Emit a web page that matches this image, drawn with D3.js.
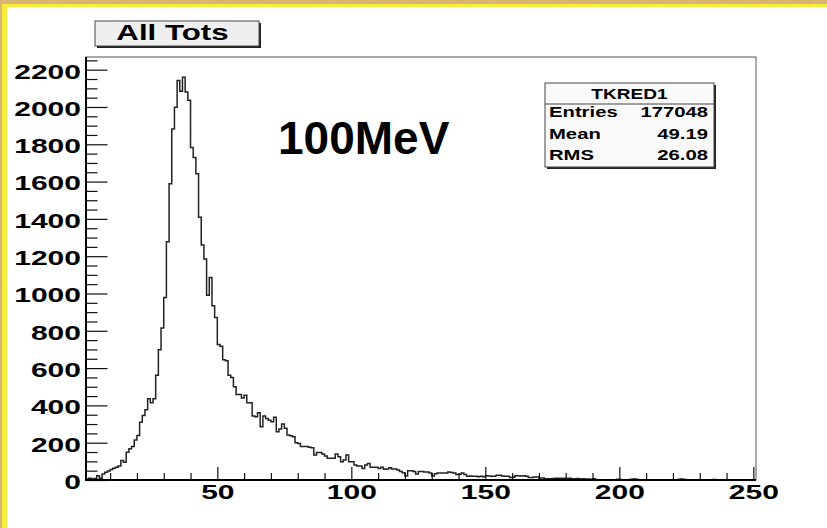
<!DOCTYPE html>
<html>
<head>
<meta charset="utf-8">
<script src="https://cdn.jsdelivr.net/npm/d3@7"></script>
<style>
  html, body { margin: 0; padding: 0; background: #d9b574; overflow: hidden; }
  svg { display: block; }
  text { font-family: "Liberation Sans", Arial, Helvetica, sans-serif; font-weight: bold; fill: #000; }
</style>
</head>
<body>
<svg id="chart" width="827" height="528"></svg>
<script>
// Histogram "TKRED1": time-over-threshold counts, 250 unit-wide bins from 1 to 251
const binLow = 1;
const binHigh = 251;
const counts = [
  6, 10, 5, 8, 23, 10, 32, 41, 48, 56,
  63, 68, 75, 104, 95, 149, 167, 179, 215, 238,
  310, 346, 376, 435, 414, 435, 561, 699, 815, 978,
  1278, 1588, 1882, 1998, 2142, 2084, 2159, 2081, 2036, 1783,
  1729, 1642, 1409, 1260, 1185, 991, 1086, 934, 871, 726,
  717, 645, 640, 562, 550, 500, 459, 459, 440, 455,
  414, 414, 343, 339, 361, 286, 343, 330, 321, 312,
  336, 259, 273, 300, 277, 241, 237, 232, 200, 196,
  179, 179, 179, 175, 173, 134, 148, 148, 139, 129,
  116, 116, 116, 139, 125, 98, 107, 134, 98, 98,
  80, 75, 75, 62, 80, 89, 68, 68, 68, 62,
  68, 57, 59, 66, 59, 59, 54, 45, 39, 21,
  50, 50, 45, 32, 45, 46, 43, 43, 37, 22,
  34, 37, 37, 37, 37, 43, 40, 37, 29, 31,
  37, 29, 20, 22, 20, 20, 18, 20, 18, 23,
  22, 20, 20, 25, 25, 22, 20, 20, 14, 15,
  23, 23, 22, 23, 20, 14, 14, 16, 16, 11,
  11, 7, 7, 7, 8, 9, 9, 10, 9, 8,
  9, 7, 7, 8, 6, 7, 5, 5, 4, 7,
  3, 2, 1, 2, 1, 1, 2, 1, 4, 3,
  1, 0, 1, 4, 5, 4, 1, 0, 1, 2,
  0, 1, 0, 1, 0, 1, 0, 1, 0, 1,
  2, 4, 5, 3, 1, 0, 1, 0, 0, 1,
  0, 0, 1, 1, 3, 0, 0, 1, 0, 0,
  0, 0, 1, 0, 0, 0, 0, 0, 0, 0
];
const yMax = 2268;

const xMajorTicks = [50, 100, 150, 200, 250];
const xMinorTicks = [10, 20, 30, 40, 60, 70, 80, 90, 110, 120, 130, 140, 160, 170, 180, 190, 210, 220, 230, 240];
const yMajorTicks = [0, 200, 400, 600, 800, 1000, 1200, 1400, 1600, 1800, 2000, 2200];
const yMinorStep = 50;

const titleText = "All Tots";
const annotation = "100MeV";
const statsName = "TKRED1";
const statsRows = [["Entries", "177048"], ["Mean", "49.19"], ["RMS", "26.08"]];

const W = 827, H = 528;
const frame = { left: 86, right: 756, top: 57, bottom: 480 };

const svg = d3.select("#chart");

// Parchment surround with a bright yellow rim around the canvas
const defs = svg.append("defs");
const tex = defs.append("filter").attr("id", "grain").attr("x", 0).attr("y", 0).attr("width", 1).attr("height", 1);
tex.append("feTurbulence").attr("type", "fractalNoise").attr("baseFrequency", "0.08 0.35").attr("numOctaves", 3).attr("seed", 4).attr("result", "n");
tex.append("feColorMatrix").attr("in", "n").attr("type", "matrix")
  .attr("values", "0 0 0 0 0.55  0 0 0 0 0.38  0 0 0 0 0.12  0 0 0 0.9 -0.2");
svg.append("rect").attr("width", W).attr("height", H).attr("fill", "#dcb877");
svg.append("rect").attr("width", W).attr("height", H).attr("filter", "url(#grain)").attr("opacity", 0.6);
svg.append("rect").attr("x", 2).attr("y", 4).attr("width", W).attr("height", H).attr("fill", "#f6ee3a");
svg.append("rect").attr("x", 7).attr("y", 7).attr("width", W).attr("height", H).attr("fill", "#ffffff");

const x = d3.scaleLinear().domain([binLow, binHigh]).range([frame.left, frame.right]);
const y = d3.scaleLinear().domain([0, yMax]).range([frame.bottom, frame.top]);

// Stretch a text element horizontally by a given factor
function stretch(sel, factor) {
  sel.each(function () {
    const len = this.getComputedTextLength();
    d3.select(this).attr("textLength", len * factor).attr("lengthAdjust", "spacingAndGlyphs");
  });
}

// Frame
svg.append("rect")
  .attr("x", frame.left).attr("y", frame.top)
  .attr("width", frame.right - frame.left).attr("height", frame.bottom - frame.top)
  .attr("fill", "none").attr("stroke", "#555").attr("stroke-width", 1);

// Histogram outline
const clipId = "plotclip";
defs.append("clipPath").attr("id", clipId).append("rect")
  .attr("x", frame.left).attr("y", frame.top)
  .attr("width", frame.right - frame.left).attr("height", frame.bottom - frame.top);

const pts = counts.map((c, i) => [binLow + i, c]);
pts.push([binLow + counts.length, counts[counts.length - 1]]);
const stepLine = d3.line().x(d => x(d[0])).y(d => y(d[1])).curve(d3.curveStepAfter);
svg.append("path")
  .attr("clip-path", `url(#${clipId})`)
  .attr("d", stepLine(pts))
  .attr("fill", "none").attr("stroke", "#222").attr("stroke-width", 1.5);

// Y axis: major and minor ticks drawn inside the frame
const yMinor = d3.range(0, yMax, yMinorStep).filter(v => !yMajorTicks.includes(v));
svg.append("g").attr("transform", `translate(${frame.left},0)`)
  .call(d3.axisLeft(y).tickValues(yMinor).tickSize(-11.5).tickFormat(""))
  .call(g => g.select(".domain").remove())
  .call(g => g.selectAll("line").attr("stroke", "#111").attr("stroke-width", 1.2));
const yAxisG = svg.append("g").attr("transform", `translate(${frame.left},0)`)
  .call(d3.axisLeft(y).tickValues(yMajorTicks).tickSize(-21.5).tickPadding(5).tickFormat(d3.format("d")))
  .call(g => g.select(".domain").remove())
  .call(g => g.selectAll("line").attr("stroke", "#111").attr("stroke-width", 1.2));
yAxisG.selectAll("text").attr("font-size", 20).attr("fill", "#000")
  .attr("font-family", "'Liberation Sans', Arial, sans-serif").attr("font-weight", "bold").attr("dy", "0.42em");
stretch(yAxisG.selectAll("text"), 1.5);

// X axis
svg.append("g").attr("transform", `translate(0,${frame.bottom})`)
  .call(d3.axisBottom(x).tickValues(xMinorTicks).tickSize(-7).tickFormat(""))
  .call(g => g.select(".domain").remove())
  .call(g => g.selectAll("line").attr("stroke", "#111").attr("stroke-width", 1.2));
const xAxisG = svg.append("g").attr("transform", `translate(0,${frame.bottom})`)
  .call(d3.axisBottom(x).tickValues(xMajorTicks).tickSize(-13).tickPadding(5).tickFormat(d3.format("d")))
  .call(g => g.select(".domain").remove())
  .call(g => g.selectAll("line").attr("stroke", "#111").attr("stroke-width", 1.2));
xAxisG.selectAll("text").attr("font-size", 20).attr("fill", "#000")
  .attr("font-family", "'Liberation Sans', Arial, sans-serif").attr("font-weight", "bold");
stretch(xAxisG.selectAll("text"), 1.5);

// Heavier axis lines along left and bottom
svg.append("line").attr("x1", frame.left).attr("x2", frame.left).attr("y1", frame.top).attr("y2", frame.bottom + 1)
  .attr("stroke", "#000").attr("stroke-width", 2);
svg.append("line").attr("x1", frame.left - 1).attr("x2", frame.right).attr("y1", frame.bottom).attr("y2", frame.bottom)
  .attr("stroke", "#000").attr("stroke-width", 2);

// Title box
const tb = { x: 95, y: 21, w: 164, h: 25 };
svg.append("rect").attr("x", tb.x + 2).attr("y", tb.y + 2).attr("width", tb.w).attr("height", tb.h).attr("fill", "#222");
svg.append("rect").attr("x", tb.x).attr("y", tb.y).attr("width", tb.w).attr("height", tb.h)
  .attr("fill", "#efefef").attr("stroke", "#444").attr("stroke-width", 1);
const tTitle = svg.append("text").attr("x", 172.5).attr("y", 39.5).attr("text-anchor", "middle")
  .attr("font-size", 22).text(titleText);
stretch(tTitle, 1.42);

// Energy annotation
svg.append("text").attr("x", 278).attr("y", 154).attr("font-size", 46).text(annotation);

// Statistics box
const sb = { x: 545, y: 83, w: 169, h: 84, head: 21 };
svg.append("rect").attr("x", sb.x + 2).attr("y", sb.y + 2).attr("width", sb.w).attr("height", sb.h).attr("fill", "#222");
svg.append("rect").attr("x", sb.x).attr("y", sb.y).attr("width", sb.w).attr("height", sb.h)
  .attr("fill", "#f9f9f9").attr("stroke", "#444").attr("stroke-width", 1);
svg.append("line").attr("x1", sb.x).attr("x2", sb.x + sb.w).attr("y1", sb.y + sb.head).attr("y2", sb.y + sb.head)
  .attr("stroke", "#444").attr("stroke-width", 1);
const tName = svg.append("text").attr("x", sb.x + sb.w / 2).attr("y", 99).attr("text-anchor", "middle")
  .attr("font-size", 15).text(statsName);
stretch(tName, 1.27);
const rowBase = [117, 138.5, 159.5];
statsRows.forEach((r, i) => {
  const a = svg.append("text").attr("x", 549).attr("y", rowBase[i]).attr("font-size", 15).text(r[0]);
  const b = svg.append("text").attr("x", 708).attr("y", rowBase[i]).attr("text-anchor", "end").attr("font-size", 15).text(r[1]);
  stretch(a, 1.35);
  stretch(b, 1.35);
});
</script>
</body>
</html>
